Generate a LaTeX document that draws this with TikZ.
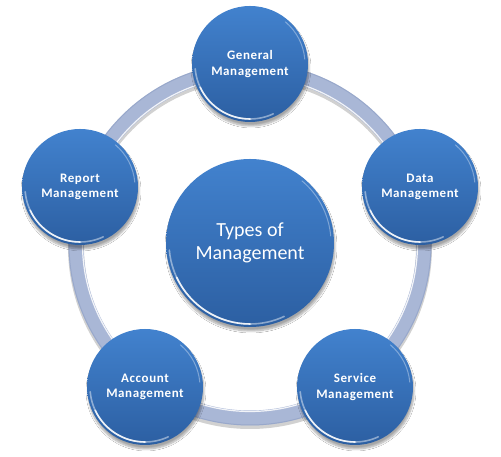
\documentclass[tikz,border=0pt]{standalone}
\usepackage{fontspec}
\setmainfont{Carlito}
\newfontfamily\lblfont[LetterSpace=4.5]{Carlito}
\usetikzlibrary{shadows.blur}
\definecolor{ringc}{HTML}{A9B7D6}
\definecolor{ringd}{HTML}{8E9FC4}
\definecolor{btop}{HTML}{4282CE}
\definecolor{bbot}{HTML}{2C5FA2}
\tikzset{
  bub/.style={circle, minimum size=116pt, inner sep=0pt, top color=btop, bottom color=bbot,
    text=white, align=center, font=\lblfont\bfseries\fontsize{13}{15.5}\selectfont,
    blur shadow={shadow xshift=1pt, shadow yshift=-4pt, shadow blur steps=8, shadow opacity=35}},
  hub/.style={bub, minimum size=168pt, font=\normalfont\fontsize{20}{23}\selectfont},
  gloss/.style={white, line cap=round, line width=1.6pt},
}
\newcommand{\glossarc}[2]{% node, radius
  \draw[gloss, opacity=0.45] (#1.center) ++(185:#2) arc[start angle=185, end angle=295, radius=#2];
  \draw[gloss, opacity=0.85] (#1.center) ++(205:#2) arc[start angle=205, end angle=270, radius=#2];
  \draw[gloss, opacity=0.35, line width=1pt] (#1.center) ++(5:#2) arc[start angle=5, end angle=50, radius=#2];
}
\begin{document}
\begin{tikzpicture}[x=1pt,y=1pt]
\useasboundingbox[fill=white] (0,0) rectangle (501,457);
\coordinate (rc) at (250,213);
% ring
\draw[black, opacity=0.18, line width=16pt] ($(rc)+(0,-3)$) circle[radius=174];
\draw[ringc, line width=15pt] (rc) circle[radius=174];
\draw[ringd, line width=1pt, opacity=0.6] (rc) circle[radius=181];
\draw[white, line width=1.2pt, opacity=0.85] (rc) circle[radius=167.5];
% nodes
\node[hub] (c) at (250,214) {Types of\\Management};
\node[bub] (g) at (250,393) {General\\Management};
\node[bub] (d) at (420,270) {Data\\Management};
\node[bub] (r) at (80,270) {Report\\Management};
\node[bub] (a) at (145,70) {Account\\Management};
\node[bub] (s) at (355,70) {Service\\Management};
\glossarc{c}{81}
\glossarc{g}{55}
\glossarc{d}{55}
\glossarc{r}{55}
\glossarc{a}{55}
\glossarc{s}{55}
\end{tikzpicture}
\end{document}
